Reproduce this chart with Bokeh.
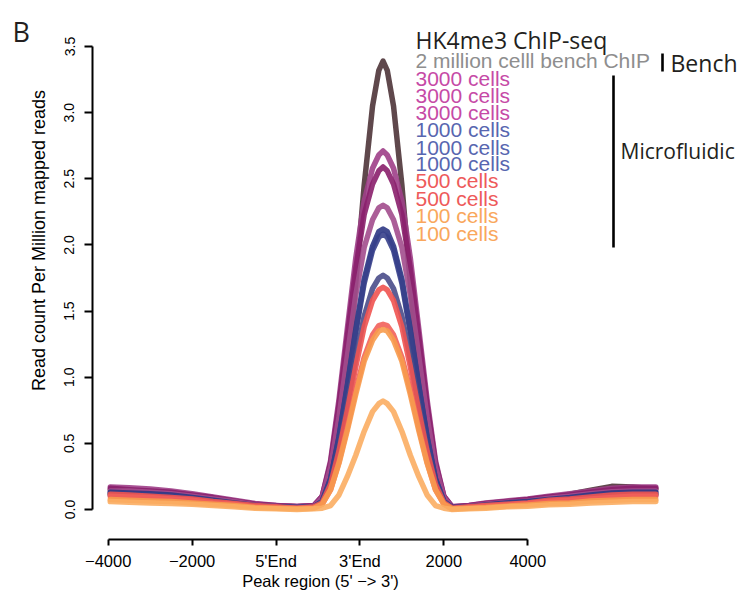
import math
from bokeh.plotting import figure
from bokeh.models import Label, FixedTicker, Range1d
from bokeh.embed import file_html
from bokeh.resources import INLINE

# ---------------- data ----------------
positions = [-3950, -3500, -3000, -2500, -2000, -1500, -1000, -500, 0, 500, 900,
             1100, 1300, 1500, 1700, 1900, 2100, 2300, 2450, 2550, 2650, 2800, 3000, 3200, 3400, 3600, 3800, 4000,
             4200, 4600, 5000, 5500, 6000, 6500, 7000, 7500, 8000, 8500, 9050]

bench_2M = [0.15, 0.14, 0.13, 0.12, 0.10, 0.08, 0.06, 0.04, 0.025, 0.02, 0.025,
            0.09, 0.22, 0.53, 1.03, 1.71, 2.45, 3.05, 3.32, 3.39, 3.32, 3.05, 2.45, 1.71, 1.03, 0.53, 0.22, 0.09,
            0.015, 0.025, 0.04, 0.055, 0.07, 0.09, 0.115, 0.145, 0.175, 0.17, 0.155]
cells3000_a = [0.17, 0.165, 0.155, 0.14, 0.12, 0.095, 0.07, 0.045, 0.03, 0.025, 0.03,
               0.10, 0.37, 0.83, 1.37, 1.90, 2.33, 2.58, 2.68, 2.71, 2.68, 2.58, 2.33, 1.90, 1.37, 0.83, 0.37, 0.10,
               0.02, 0.03, 0.05, 0.065, 0.08, 0.10, 0.12, 0.14, 0.16, 0.17, 0.17]
cells3000_b = [0.16, 0.15, 0.14, 0.13, 0.11, 0.09, 0.065, 0.04, 0.03, 0.02, 0.03,
               0.10, 0.35, 0.79, 1.31, 1.82, 2.23, 2.46, 2.56, 2.59, 2.56, 2.46, 2.23, 1.82, 1.31, 0.79, 0.35, 0.10,
               0.02, 0.03, 0.045, 0.06, 0.075, 0.095, 0.11, 0.13, 0.15, 0.16, 0.16]
cells3000_c = [0.14, 0.14, 0.13, 0.12, 0.10, 0.08, 0.06, 0.035, 0.025, 0.02, 0.025,
               0.09, 0.32, 0.70, 1.16, 1.62, 1.98, 2.19, 2.28, 2.30, 2.28, 2.19, 1.98, 1.62, 1.16, 0.70, 0.32, 0.09,
               0.015, 0.025, 0.04, 0.055, 0.065, 0.085, 0.10, 0.12, 0.135, 0.14, 0.14]
cells1000_a = [0.13, 0.125, 0.12, 0.11, 0.09, 0.07, 0.05, 0.03, 0.02, 0.015, 0.02,
               0.06, 0.23, 0.55, 0.94, 1.36, 1.74, 1.99, 2.10, 2.12, 2.10, 1.99, 1.74, 1.36, 0.94, 0.55, 0.23, 0.06,
               0.015, 0.02, 0.035, 0.05, 0.06, 0.075, 0.09, 0.11, 0.125, 0.13, 0.13]
cells1000_b = [0.12, 0.115, 0.11, 0.10, 0.085, 0.065, 0.045, 0.03, 0.02, 0.015, 0.02,
               0.06, 0.23, 0.54, 0.93, 1.34, 1.71, 1.96, 2.06, 2.08, 2.06, 1.96, 1.71, 1.34, 0.93, 0.54, 0.23, 0.06,
               0.01, 0.02, 0.03, 0.045, 0.055, 0.07, 0.085, 0.10, 0.115, 0.12, 0.12]
cells1000_c = [0.11, 0.105, 0.10, 0.09, 0.075, 0.06, 0.04, 0.025, 0.015, 0.01, 0.015,
               0.06, 0.20, 0.46, 0.79, 1.14, 1.46, 1.67, 1.75, 1.77, 1.75, 1.67, 1.46, 1.14, 0.79, 0.46, 0.20, 0.06,
               0.01, 0.015, 0.03, 0.04, 0.05, 0.065, 0.075, 0.09, 0.10, 0.11, 0.11]
cells500_a = [0.115, 0.11, 0.10, 0.09, 0.08, 0.06, 0.045, 0.03, 0.02, 0.01, 0.02,
              0.05, 0.19, 0.44, 0.75, 1.08, 1.38, 1.58, 1.66, 1.68, 1.66, 1.58, 1.38, 1.08, 0.75, 0.44, 0.19, 0.05,
              0.01, 0.02, 0.03, 0.04, 0.05, 0.07, 0.08, 0.095, 0.11, 0.115, 0.115]
cells500_b = [0.10, 0.095, 0.09, 0.08, 0.07, 0.05, 0.04, 0.02, 0.015, 0.01, 0.015,
              0.04, 0.15, 0.36, 0.62, 0.90, 1.15, 1.32, 1.39, 1.40, 1.39, 1.32, 1.15, 0.90, 0.62, 0.36, 0.15, 0.04,
              0.005, 0.015, 0.025, 0.035, 0.045, 0.06, 0.07, 0.08, 0.09, 0.10, 0.10]
cells100_a = [0.075, 0.07, 0.065, 0.06, 0.05, 0.04, 0.03, 0.015, 0.01, 0.005, 0.01,
              0.04, 0.15, 0.35, 0.60, 0.87, 1.12, 1.28, 1.35, 1.36, 1.35, 1.28, 1.12, 0.87, 0.60, 0.35, 0.15, 0.04,
              0.005, 0.01, 0.015, 0.025, 0.035, 0.045, 0.05, 0.065, 0.07, 0.075, 0.075]
cells100_b = [0.06, 0.055, 0.05, 0.045, 0.04, 0.03, 0.02, 0.01, 0.005, 0.0, 0.005,
              0.01, 0.03, 0.11, 0.25, 0.41, 0.59, 0.74, 0.80, 0.82, 0.80, 0.74, 0.59, 0.41, 0.25, 0.11, 0.03, 0.01,
              0.0, 0.005, 0.01, 0.02, 0.025, 0.035, 0.04, 0.05, 0.055, 0.06, 0.06]

series = [bench_2M, cells3000_a, cells3000_b, cells3000_c, cells1000_a, cells1000_b,
          cells1000_c, cells500_a, cells500_b, cells100_a, cells100_b]
line_colors = ["#4e3439", "#9e3f88", "#8a1f6c", "#a24c8d", "#2e3784", "#37408b",
               "#4a4d8a", "#ef5350", "#f2615a", "#f79b4c", "#fbad62"]

legend_labels = ["2 million celll bench ChIP", "3000 cells", "3000 cells", "3000 cells",
                 "1000 cells", "1000 cells", "1000 cells", "500 cells", "500 cells",
                 "100 cells", "100 cells"]
legend_colors = ["#8e8e8e", "#c64aa6", "#c64aa6", "#c64aa6", "#5866b0", "#5866b0",
                 "#5866b0", "#ee5a5a", "#ee5a5a", "#f9a75c", "#f9a75c"]

x_tick_values = [-4000, -2000, 0, 2000, 4000, 6000]
x_tick_labels = ["\u22124000", "\u22122000", "5'End", "3'End", "2000", "4000"]
y_tick_values = [0, 0.5, 1, 1.5, 2, 2.5, 3, 3.5]
y_tick_labels = ["0.0", "0.5", "1.0", "1.5", "2.0", "2.5", "3.0", "3.5"]

# ---------------- layout helpers (pixel -> data) ----------------
W, H = 749, 606
FL, FR, FT, FB = 92, 745, 10, 539
X0_PX, X1_PX = 107.7, 527.3
XS = (X1_PX - X0_PX) / 10000.0
Y0_PX, Y35_PX = 509.0, 46.0
YS = (Y0_PX - Y35_PX) / 3.5
TXT_DY = 7.5   # baseline correction for text annotations


def xd(px):
    return -4000 + (px - X0_PX) / XS


def yd(py):
    return (Y0_PX - py) / YS


def yt(py):
    return yd(py - TXT_DY)


p = figure(width=W, height=H, output_backend="svg", toolbar_location=None,
           title_location=None,
           x_range=Range1d(xd(FL), xd(FR)), y_range=Range1d(yd(FB), yd(FT)),
           min_border_left=FL, min_border_right=W - FR,
           min_border_top=FT, min_border_bottom=H - FB)
p.outline_line_color = None
p.grid.visible = False
p.background_fill_color = "white"
p.border_fill_color = "white"

for vals, col in zip(series, line_colors):
    p.line(positions, vals, line_color=col, line_width=5.5, line_alpha=0.9,
           line_join="round", line_cap="round")

AX_FONT = "Liberation Sans"

# x axis
xa = p.xaxis[0]
xa.bounds = (x_tick_values[0], x_tick_values[-1])
xa.ticker = FixedTicker(ticks=x_tick_values)
xa.major_label_overrides = dict(zip(x_tick_values, x_tick_labels))
xa.minor_tick_line_color = None
xa.major_tick_in = 0
xa.major_tick_out = 6
xa.axis_line_width = 2
xa.major_tick_line_width = 2
xa.axis_line_color = "black"
xa.major_tick_line_color = "black"
xa.major_label_text_font = AX_FONT
xa.major_label_text_font_size = "16.5px"
xa.major_label_text_color = "black"
xa.major_label_standoff = 6

# y axis
ya = p.yaxis[0]
ya.bounds = (y_tick_values[0], y_tick_values[-1])
ya.ticker = FixedTicker(ticks=y_tick_values)
ya.major_label_overrides = dict(zip(y_tick_values, y_tick_labels))
ya.minor_tick_line_color = None
ya.major_tick_in = 0
ya.major_tick_out = 8
ya.axis_line_width = 2
ya.major_tick_line_width = 2
ya.axis_line_color = "black"
ya.major_tick_line_color = "black"
ya.major_label_orientation = "vertical"
ya.major_label_text_font = AX_FONT
ya.major_label_text_font_size = "14px"
ya.major_label_text_color = "black"
ya.major_label_standoff = 10

# axis titles placed where the reference has them (side panels are not clipped)
p.add_layout(Label(x=xd(38), y=yd(240), text="Read count Per Million mapped reads",
                   angle=math.pi / 2, text_align="center", text_baseline="middle",
                   text_font=AX_FONT, text_font_size="18px", text_color="black"), "left")
p.add_layout(Label(x=xd(320), y=yd(580), text="Peak region (5' \u2212> 3')",
                   text_align="center", text_baseline="middle",
                   text_font=AX_FONT, text_font_size="16.5px", text_color="black"), "below")

# panel letter
p.add_layout(Label(x=xd(12), y=yt(38), text="B", text_align="left",
                   text_baseline="alphabetic", text_font="Open Sans",
                   text_font_size="27px", text_color="#231f20"), "left")

# header
p.add_layout(Label(x=xd(415), y=yt(46.7), text="HK4me3 ChIP-seq", text_align="left",
                   text_baseline="alphabetic", text_font="Open Sans",
                   text_font_size="23px", text_color="#231f20"))

legend_baselines_px = [67.7, 85.7, 102.7, 119.3, 136.7, 154.0, 170.7, 187.7, 205.0, 222.3, 240.0]
for lab, col, by in zip(legend_labels, legend_colors, legend_baselines_px):
    p.add_layout(Label(x=xd(415), y=yt(by), text=lab, text_align="left",
                       text_baseline="alphabetic", text_font=AX_FONT,
                       text_font_size="21px", text_color=col))

# group brackets
p.segment(x0=[xd(662), xd(613)], y0=[yd(53), yd(75)], x1=[xd(662), xd(613)], y1=[yd(71), yd(247)],
          line_color="black", line_width=2.6)
p.add_layout(Label(x=xd(670), y=yt(70), text="Bench", text_align="left",
                   text_baseline="alphabetic", text_font="Open Sans",
                   text_font_size="23px", text_color="#231f20"))
p.add_layout(Label(x=xd(620), y=yt(158.3), text="Microfluidic", text_align="left",
                   text_baseline="alphabetic", text_font="Open Sans",
                   text_font_size="21px", text_color="#231f20"))

open("out.html", "w").write(file_html(p, INLINE))
